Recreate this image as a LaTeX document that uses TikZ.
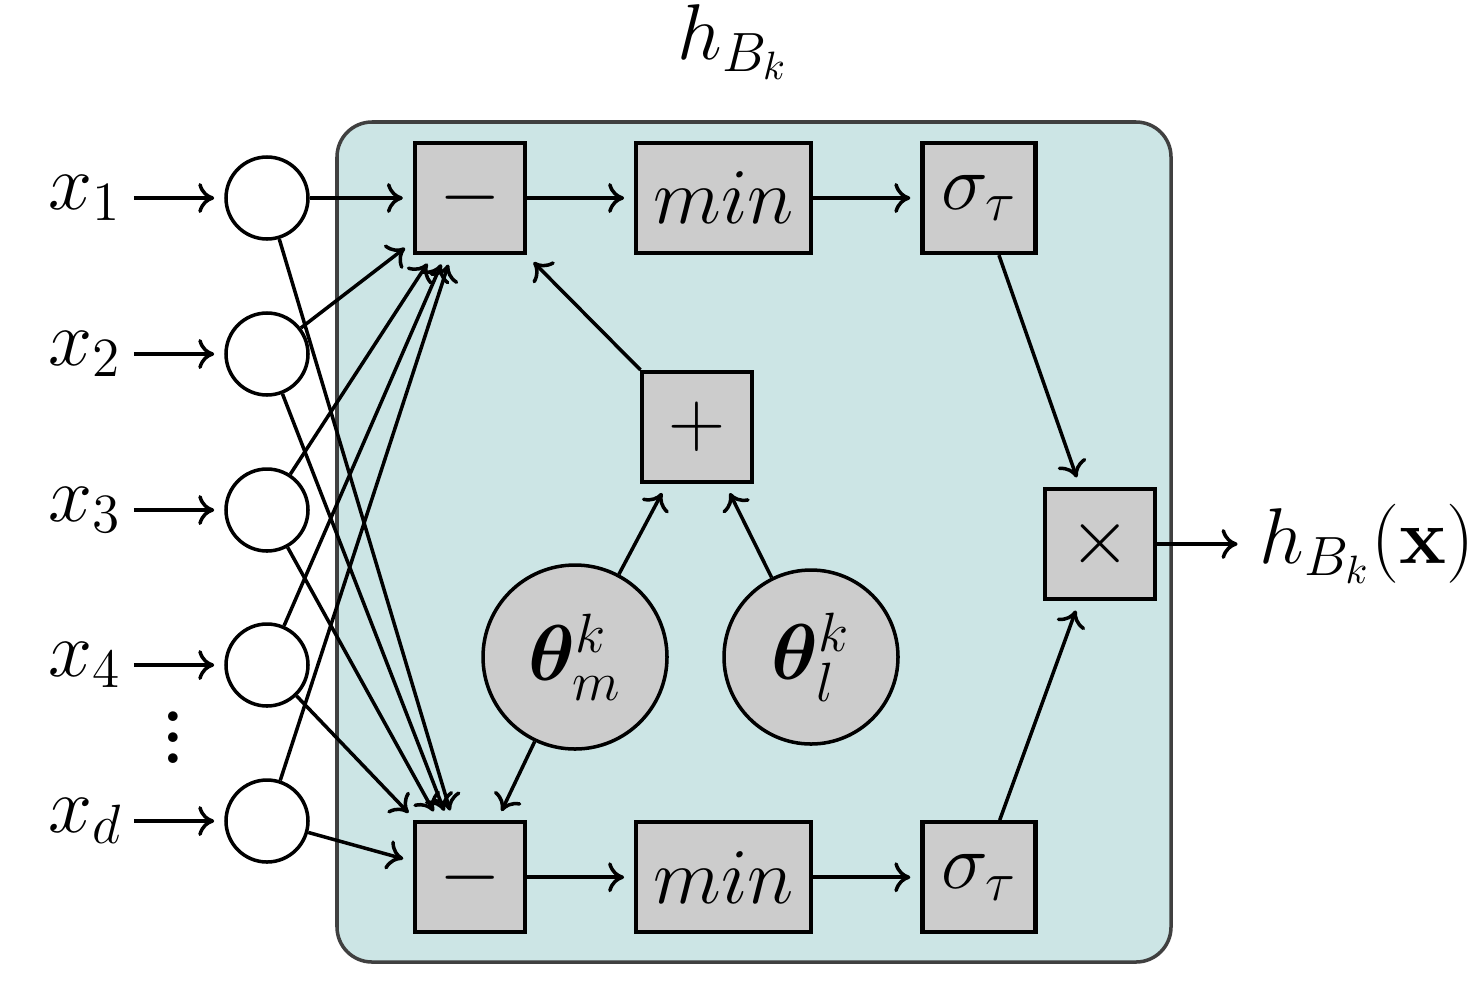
\RequirePackage{fix-cm}
\documentclass[tikz,border=0pt]{standalone}
\usepackage{amsmath,bm}
\usetikzlibrary{arrows.meta,positioning}
\definecolor{panelteal}{RGB}{204,229,229}
\definecolor{paneledge}{RGB}{64,64,64}

\begin{document}
\begin{tikzpicture}[
        font=\fontsize{22.5}{27}\selectfont,
        node distance=1.07cm and 1.07cm,
        opbox/.style={draw, line width=1.2pt, fill=gray!40, minimum width=1.1cm, minimum height=1.1cm, inner sep=0pt},
        unidad/.style={draw, circle, line width=1pt, fill=white, minimum size=0.82cm, inner sep=0pt},
        param/.style={draw, circle, line width=1pt, fill=gray!40, inner sep=0pt},
        panel/.style={draw=paneledge, line width=1pt, fill=panelteal, rounded corners=0.35cm, minimum width=8.34cm, minimum height=8.40cm},
        flecha/.style={-{Computer Modern Rightarrow[width=3mm,length=1.6mm]}, line width=1pt, shorten >=0.1cm}
    ]
        \useasboundingbox (0,0) rectangle (14.76,-9.84);

        % fondo del bloque
        \node[panel] (bloque) at (7.54,-5.42) {};
        \node (titulo) at (7.33,-0.42) {$h_{B_k}$};

        % fila superior e inferior
        \node[opbox] (sub1) at (4.70,-1.98) {$-$};
        \node[opbox, minimum width=1.75cm, right=of sub1] (min1) {$min$};
        \node[opbox, minimum width=1.13cm, right=of min1] (sig1) {$\sigma_\tau$};

        \node[opbox, below=5.65cm of sub1] (sub2) {$-$};
        \node[opbox, minimum width=1.75cm, right=of sub2] (min2) {$min$};
        \node[opbox, minimum width=1.13cm, right=of min2] (sig2) {$\sigma_\tau$};

        \node[opbox] (suma) at (6.97,-4.27) {$+$};
        \node[opbox] (prod) at (11.00,-5.44) {$\times$};

        \node[param, minimum size=1.84cm] (thm) at (5.75,-6.57) {$\boldsymbol{\theta}_m^k$};
        \node[param, minimum size=1.74cm] (thl) at (8.11,-6.57) {$\boldsymbol{\theta}_l^k$};

        % entradas
        \node[unidad] (u1) at (2.67,-1.98) {};
        \node[unidad] (u2) at (2.67,-3.54) {};
        \node[unidad] (u3) at (2.67,-5.10) {};
        \node[unidad] (u4) at (2.67,-6.65) {};
        \node[unidad] (ud) at (2.67,-8.21) {};

        \node (x1) at (0.85,-1.98) {$x_1$};
        \node (x2) at (0.85,-3.54) {$x_2$};
        \node (x3) at (0.85,-5.10) {$x_3$};
        \node (x4) at (0.85,-6.65) {$x_4$};
        \node (xd) at (0.85,-8.21) {$x_d$};
        \node (puntos) at (1.73,-7.22) {\scalebox{1.5}{$\vdots$}};

        \node (salida) at (13.67,-5.44) {$h_{B_k}(\mathbf{x})$};

        % flechas
        \draw[flecha] (x1) -- (u1);
        \draw[flecha] (x2) -- (u2);
        \draw[flecha] (x3) -- (u3);
        \draw[flecha] (x4) -- (u4);
        \draw[flecha] (xd) -- (ud);

        \draw[flecha] (u1) -- (sub1);
        \draw[flecha] (u2) -- (sub1);
        \draw[flecha] (u3) -- (sub1);
        \draw[flecha] (u4) -- (sub1);
        \draw[flecha] (ud) -- (sub1);
        \draw[flecha] (u1) -- (sub2);
        \draw[flecha] (u2) -- (sub2);
        \draw[flecha] (u3) -- (sub2);
        \draw[flecha] (u4) -- (sub2);
        \draw[flecha] (ud) -- (sub2);

        \draw[flecha] (sub1) -- (min1);
        \draw[flecha] (min1) -- (sig1);
        \draw[flecha] (sub2) -- (min2);
        \draw[flecha] (min2) -- (sig2);

        \draw[flecha] (suma) -- (sub1);
        \draw[flecha] (thm) -- (suma);
        \draw[flecha] (thl) -- (suma);
        \draw[flecha] (thm) -- (sub2);

        \draw[flecha] (sig1) -- (prod);
        \draw[flecha] (sig2) -- (prod);
        \draw[flecha] (prod) -- (salida);
    \end{tikzpicture}
\end{document}
